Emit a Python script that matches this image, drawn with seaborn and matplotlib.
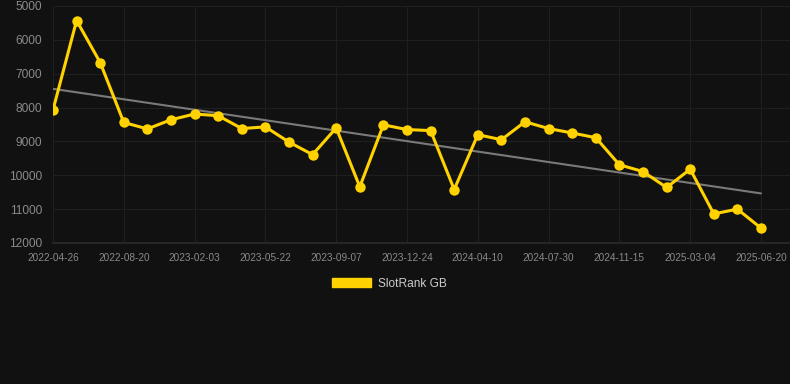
import numpy as np
import pandas as pd
import matplotlib
matplotlib.use("Agg")
import matplotlib.pyplot as plt
from matplotlib.patches import Patch
import seaborn as sns

# rank values (lower is better, axis inverted)
dates = [
    "2022-04-26", "", "", "2022-08-20", "", "", "2023-02-03", "", "", "2023-05-22", "", "",
    "2023-09-07", "", "", "2023-12-24", "", "", "2024-04-10", "", "", "2024-07-30", "", "",
    "2024-11-15", "", "", "2025-03-04", "", "", "2025-06-20",
]
ranks = [
    8070, 5430, 6670, 8440, 8630, 8360, 8190, 8240, 8620, 8570, 9020, 9390,
    8600, 10340, 8510, 8650, 8680, 10420, 8800, 8950, 8420, 8620, 8750, 8890,
    9690, 9890, 10360, 9820, 11140, 11000, 11560,
]
y_ticks = [5000, 6000, 7000, 8000, 9000, 10000, 11000, 12000]
series_name = "SlotRank GB"

BG = "#111111"
YELLOW = "#FFD200"
GRID = "#1f1f1f"
TEXT = "#8a8a8a"

df = pd.DataFrame({"idx": np.arange(len(ranks)), "rank": ranks})

sns.set_theme(style="dark")
plt.rcParams["font.family"] = ["Liberation Sans", "DejaVu Sans"]

fig = plt.figure(figsize=(7.9, 3.84), dpi=100, facecolor=BG)
ax = fig.add_axes([53 / 790, 1 - 243 / 384, (790 - 53) / 790, 237 / 384])
ax.set_facecolor(BG)

# trend line
sns.regplot(x="idx", y="rank", data=df, ax=ax, scatter=False, ci=None,
            line_kws={"color": "#7a7a7a", "linewidth": 1.5, "zorder": 2})

sns.lineplot(x="idx", y="rank", data=df, ax=ax, color=YELLOW, linewidth=2.2,
             marker="o", markersize=7.5, markeredgewidth=0, zorder=3)

n = len(ranks)
ax.set_xlim(0, (n - 1) * 737 / 708)
ax.set_ylim(12000, 5000)
ax.set_yticks(y_ticks)
ax.set_yticklabels([str(v) for v in y_ticks])
tick_pos = [i for i, d in enumerate(dates) if d]
ax.set_xticks(tick_pos)
ax.set_xticklabels([dates[i] for i in tick_pos])

ax.grid(True, color=GRID, linewidth=0.8)
ax.tick_params(axis="y", colors=TEXT, labelsize=8.6, length=6, width=0.8, color=GRID, pad=2)
ax.tick_params(axis="x", colors=TEXT, labelsize=7.2, length=5, width=0.8, color=GRID, pad=2)
for s in ["top", "right", "left"]:
    ax.spines[s].set_visible(False)
ax.spines["bottom"].set_color("#2a2a2a")
ax.set_xlabel("")
ax.set_ylabel("")

handle = Patch(facecolor=YELLOW, edgecolor=YELLOW)
fig.legend([handle], [series_name], loc="center", bbox_to_anchor=(389.5 / 790, 1 - 284 / 384),
           frameon=False, fontsize=8.6, labelcolor="#cccccc",
           handlelength=3.3, handleheight=0.8, handletextpad=0.6)

fig.savefig("out.png", dpi=100, facecolor=BG)
